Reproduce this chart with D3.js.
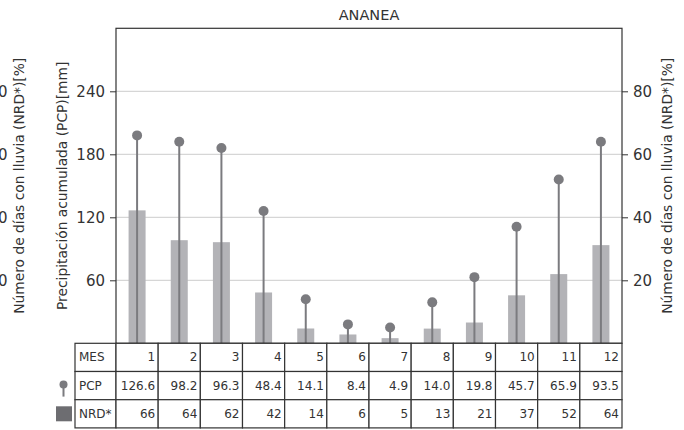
<!DOCTYPE html>
<html><head><meta charset="utf-8">
<script src="https://cdn.jsdelivr.net/npm/d3@7"></script>
<style>
body{margin:0;background:#fff;}
svg{display:block;font-family:"DejaVu Sans",sans-serif;}
</style></head>
<body><svg id="c" width="684" height="430"></svg>
<script>
const title = "ANANEA";
const months = ["1","2","3","4","5","6","7","8","9","10","11","12"];
const pcp = [126.6, 98.2, 96.3, 48.4, 14.1, 8.4, 4.9, 14.0, 19.8, 45.7, 65.9, 93.5];
const nrd = [66, 64, 62, 42, 14, 6, 5, 13, 21, 37, 52, 64];
const leftTicks = [60, 120, 180, 240];
const rightTicks = [20, 40, 60, 80];
const rowLabels = ["MES", "PCP", "NRD*"];
const leftLabel = "Precipitación acumulada (PCP)[mm]";
const rightLabel = "Número de días con lluvia (NRD*)[%]";

const svg = d3.select("#c");
const L = 116, R = 622, T = 28.3, B = 343.3;
const textCol = "#333";
const barCol = "#b3b3b7", stemCol = "#7b7b7f", sqCol = "#6d6d71", gridCol = "#cccccc", frameCol = "#333";

const x = d3.scaleBand().domain(months).range([L, R]).padding(0);
const yL = d3.scaleLinear().domain([0, 300]).range([B, T]);
const yR = d3.scaleLinear().domain([0, 100]).range([B, T]);

// grid
svg.append("g").selectAll("line").data(leftTicks).join("line")
  .attr("x1", L).attr("x2", R).attr("y1", d => yL(d)).attr("y2", d => yL(d))
  .attr("stroke", gridCol).attr("stroke-width", 1);

// bars (PCP)
const bw = 17;
svg.append("g").selectAll("rect").data(pcp).join("rect")
  .attr("x", (d, i) => x(months[i]) + x.bandwidth() / 2 - bw / 2)
  .attr("width", bw)
  .attr("y", d => yL(d)).attr("height", d => B - yL(d))
  .attr("fill", barCol);

// lollipops (NRD)
const lg = svg.append("g");
lg.selectAll("line").data(nrd).join("line")
  .attr("x1", (d, i) => x(months[i]) + x.bandwidth() / 2)
  .attr("x2", (d, i) => x(months[i]) + x.bandwidth() / 2)
  .attr("y1", B).attr("y2", d => yR(d))
  .attr("stroke", stemCol).attr("stroke-width", 2);
lg.selectAll("circle").data(nrd).join("circle")
  .attr("cx", (d, i) => x(months[i]) + x.bandwidth() / 2)
  .attr("cy", d => yR(d)).attr("r", 5)
  .attr("fill", stemCol);

// frame
svg.append("rect").attr("x", L).attr("y", T).attr("width", R - L).attr("height", B - T)
  .attr("fill", "none").attr("stroke", frameCol).attr("stroke-width", 1.2);

// axes
function styleAxis(g) {
  g.select(".domain").remove();
  g.selectAll(".tick line").attr("stroke", frameCol).attr("stroke-width", 1);
  g.selectAll(".tick text").attr("fill", textCol).attr("font-size", "15px")
    .attr("font-family", "DejaVu Sans");
}
svg.append("g").attr("transform", `translate(${L},0)`)
  .call(d3.axisLeft(yL).tickValues(leftTicks).tickSize(6).tickPadding(5)).call(styleAxis);
svg.append("g").attr("transform", `translate(${R},0)`)
  .call(d3.axisRight(yR).tickValues(rightTicks).tickSize(6).tickPadding(5)).call(styleAxis);
// outer left axis for NRD (partly outside the window, as in the reference)
svg.append("g").attr("transform", `translate(7.5,0)`)
  .call(d3.axisLeft(yR).tickValues(rightTicks).tickSize(0).tickPadding(0)).call(styleAxis);

// axis labels
const cy = (T + B) / 2;
function vlabel(xp, txt) {
  svg.append("text").attr("transform", `translate(${xp},${cy}) rotate(-90)`)
    .attr("text-anchor", "middle").attr("dominant-baseline", "central")
    .attr("font-size", "13.8px").attr("fill", textCol).text(txt);
}
vlabel(62, leftLabel);
vlabel(19, rightLabel);
vlabel(666.5, rightLabel);

// title
svg.append("text").attr("x", (L + R) / 2).attr("y", 20).attr("text-anchor", "middle")
  .attr("font-size", "14.5px").attr("fill", textCol).text(title);

// table
const rowH = 28.2, tL = 75;
const tg = svg.append("g");
const rows = [months, pcp.map(d => d.toFixed(1)), nrd.map(String)];
rows.forEach((row, r) => {
  const y0 = B + r * rowH;
  tg.append("rect").attr("x", tL).attr("y", y0).attr("width", L - tL).attr("height", rowH)
    .attr("fill", "#fff").attr("stroke", frameCol).attr("stroke-width", 1.2);
  tg.append("text").attr("x", tL + 4).attr("y", y0 + rowH / 2).attr("dominant-baseline", "central")
    .attr("font-size", "12px").attr("fill", textCol).text(rowLabels[r]);
  row.forEach((v, i) => {
    const xc = x(months[i]);
    tg.append("rect").attr("x", xc).attr("y", y0).attr("width", x.bandwidth()).attr("height", rowH)
      .attr("fill", "#fff").attr("stroke", frameCol).attr("stroke-width", 1.2);
    tg.append("text").attr("x", xc + x.bandwidth() - 3).attr("y", y0 + rowH / 2)
      .attr("text-anchor", "end").attr("dominant-baseline", "central")
      .attr("font-size", "12px").attr("fill", textCol).text(v);
  });
});

// legend markers
const lx = 63.5, ly = B + rowH * 1.5;
svg.append("line").attr("x1", lx).attr("x2", lx).attr("y1", ly - 1).attr("y2", ly + 11)
  .attr("stroke", stemCol).attr("stroke-width", 2);
svg.append("circle").attr("cx", lx).attr("cy", ly - 1).attr("r", 4).attr("fill", stemCol);
svg.append("rect").attr("x", 56).attr("y", B + rowH * 2.5 - 7.5).attr("width", 16).attr("height", 15)
  .attr("fill", sqCol);
</script></body></html>
